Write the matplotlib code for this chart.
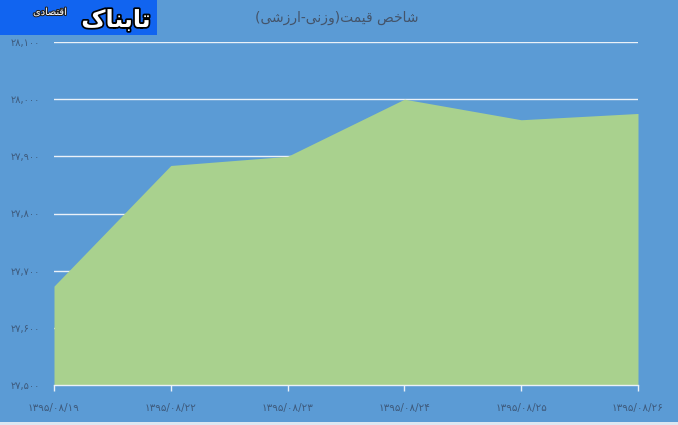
import matplotlib
matplotlib.use("Agg")
import matplotlib.pyplot as plt
from matplotlib.patches import Rectangle
import matplotlib.patheffects as pe

# ---- data ----
dates = ["۱۳۹۵/۰۸/۱۹", "۱۳۹۵/۰۸/۲۲", "۱۳۹۵/۰۸/۲۳", "۱۳۹۵/۰۸/۲۴", "۱۳۹۵/۰۸/۲۵", "۱۳۹۵/۰۸/۲۶"]
values = [27673, 27884, 27900, 28000, 27964, 27975]
y_ticks = [27500, 27600, 27700, 27800, 27900, 28000, 28100]
title = "شاخص قیمت(وزنی-ارزشی)"
logo_main = "تابناک"
logo_sub = "اقتصادی"

# ---- minimal Persian shaping (presentation forms) ----
FORMS = {
    'ا': ('\uFE8D', '\uFE8E', None, None),
    'ب': ('\uFE8F', '\uFE90', '\uFE91', '\uFE92'),
    'ت': ('\uFE95', '\uFE96', '\uFE97', '\uFE98'),
    'خ': ('\uFEA5', '\uFEA6', '\uFEA7', '\uFEA8'),
    'د': ('\uFEA9', '\uFEAA', None, None),
    'ر': ('\uFEAD', '\uFEAE', None, None),
    'ز': ('\uFEAF', '\uFEB0', None, None),
    'ش': ('\uFEB5', '\uFEB6', '\uFEB7', '\uFEB8'),
    'ص': ('\uFEB9', '\uFEBA', '\uFEBB', '\uFEBC'),
    'ق': ('\uFED5', '\uFED6', '\uFED7', '\uFED8'),
    'م': ('\uFEE1', '\uFEE2', '\uFEE3', '\uFEE4'),
    'ن': ('\uFEE5', '\uFEE6', '\uFEE7', '\uFEE8'),
    'و': ('\uFEED', '\uFEEE', None, None),
    'ی': ('\uFBFC', '\uFBFD', '\uFBFE', '\uFBFF'),
    'ک': ('\uFB8E', '\uFB8F', '\uFB90', '\uFB91'),
}
MIRROR = {'(': ')', ')': '('}


def shape(s):
    out = []
    for i, c in enumerate(s):
        if c not in FORMS:
            out.append(c)
            continue
        prev = s[i - 1] if i > 0 else None
        nxt = s[i + 1] if i + 1 < len(s) else None
        jp = prev in FORMS and FORMS[prev][2] is not None
        jn = FORMS[c][2] is not None and nxt in FORMS
        iso, fin, ini, med = FORMS[c]
        if jp and jn:
            out.append(med)
        elif jp:
            out.append(fin)
        elif jn:
            out.append(ini)
        else:
            out.append(iso)
    return ''.join(MIRROR.get(c, c) for c in reversed(out))


def fa_num(n):
    s = f"{n:,}"
    return s.translate(str.maketrans("0123456789", "۰۱۲۳۴۵۶۷۸۹"))


BG = '#5B9BD5'
GREEN = '#A9D18E'
TXT = '#3E5A7C'

W, H = 678, 425
fig = plt.figure(figsize=(W / 100, H / 100), dpi=100, facecolor=BG)
plt.rcParams['font.family'] = ['DejaVu Sans']

ax = fig.add_axes([54 / W, 1 - 385 / H, (638 - 54) / W, (385 - 42) / H])
ax.set_facecolor(BG)
x = list(range(len(values)))
ax.fill_between(x, y_ticks[0], values, color=GREEN, lw=0, zorder=2)
for yt in y_ticks[1:]:
    ax.axhline(yt, color='#EAF1F8', lw=1.0, zorder=1)
ax.set_xlim(0, len(values) - 1)
ax.set_ylim(y_ticks[0], y_ticks[-1])
for s in ['top', 'right', 'left']:
    ax.spines[s].set_visible(False)
ax.spines['bottom'].set_color('#EAF1F8')
ax.spines['bottom'].set_linewidth(1.0)
ax.spines['bottom'].set_zorder(3)
ax.set_yticks(y_ticks)
ax.set_yticklabels([fa_num(v) for v in y_ticks], fontsize=7, color=TXT)
ax.tick_params(axis='y', length=0, pad=10)
ax.set_xticks(x)
ax.set_xticklabels(dates, fontsize=7.5, color=TXT)
ax.tick_params(axis='x', length=4, color='#EAF1F8', width=1, pad=9, direction='out')

fig.text(337 / W, 1 - 18 / H, shape(title), ha='center', va='center', fontsize=10, color='#44546A')

# logo
fig.patches.append(Rectangle((0, 1 - 35 / H), 157 / W, 35 / H, transform=fig.transFigure,
                             facecolor='#1164F0', edgecolor='none', zorder=5))
fig.text(116 / W, 1 - 20 / H, shape(logo_main), ha='center', va='center', fontsize=17,
         fontweight='bold', color='white', zorder=6,
         path_effects=[pe.withStroke(linewidth=2.5, foreground='black')])
fig.text(50 / W, 1 - 12 / H, shape(logo_sub), ha='center', va='center', fontsize=7,
         color='white', zorder=6,
         path_effects=[pe.withStroke(linewidth=1.5, foreground='#222222')])

# light strip at bottom edge
fig.patches.append(Rectangle((0, 0), 1, 3 / H, transform=fig.transFigure,
                             facecolor='#DDE7F1', edgecolor='none'))

fig.savefig('out.png', dpi=100, facecolor=BG)
